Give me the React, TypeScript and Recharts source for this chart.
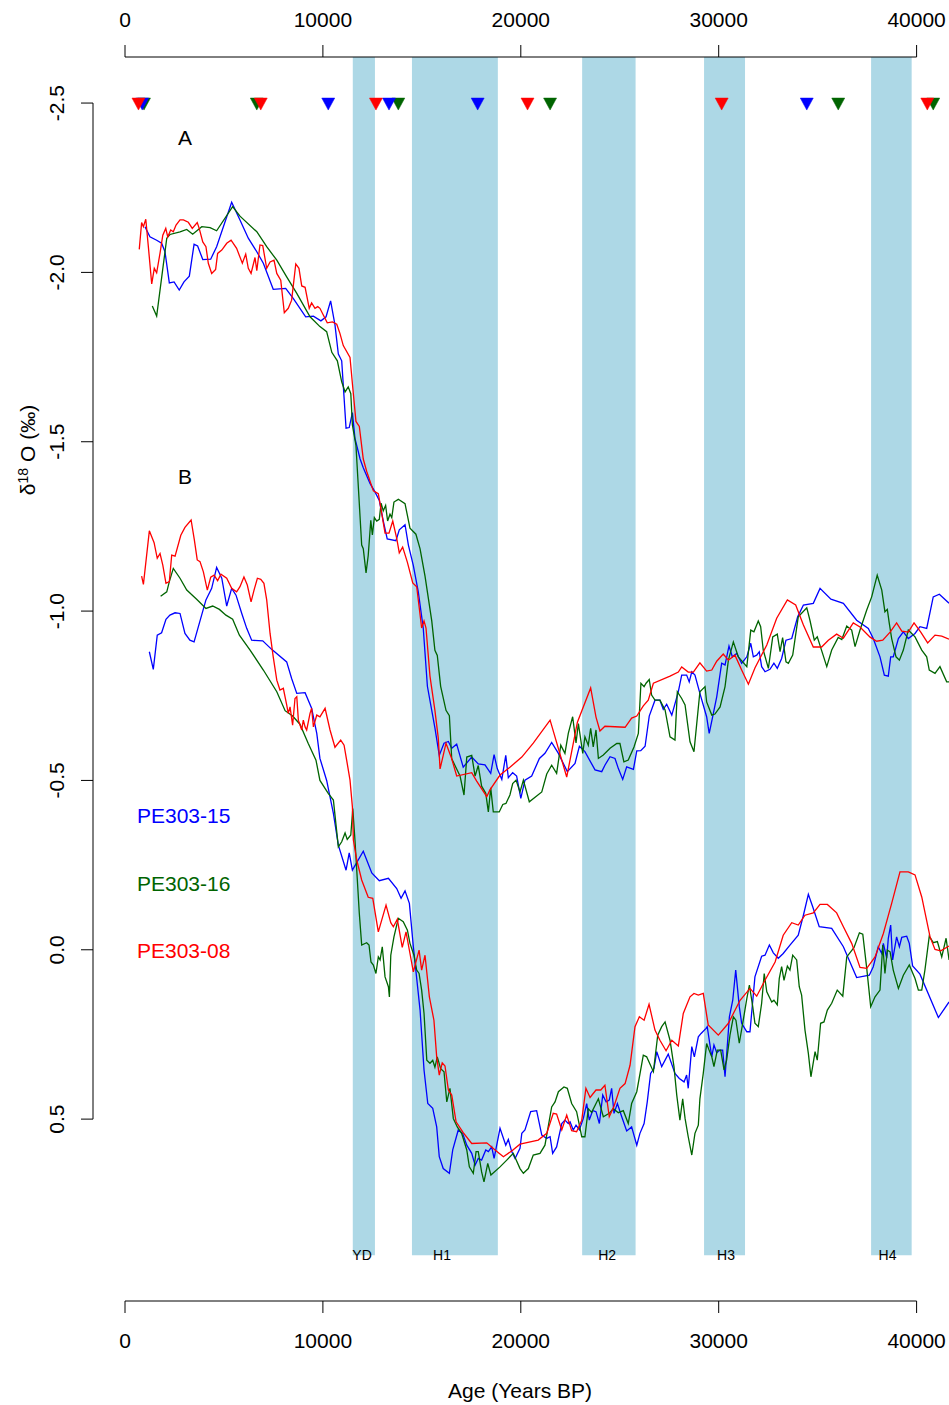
import React from 'react';
import { ComposedChart, Line, Scatter, XAxis, YAxis, ReferenceArea, ReferenceLine, ReferenceDot } from 'recharts';

const FONT = '"Liberation Sans", Arial, Helvetica, sans-serif';

// axis ranges (years BP, d18O permil; y is reversed)
const X_MIN = -1617;
const X_MAX = 41637;
const Y_TOP = -2.636;
const Y_BOTTOM = 1.037;
const BAND_BOTTOM = 0.902;

const xTicks = [0, 10000, 20000, 30000, 40000];
const yTicks = [-2.5, -2.0, -1.5, -1.0, -0.5, 0.0, 0.5];

// cold events
const bandNames = ['YD', 'H1', 'H2', 'H3', 'H4'];
const bandStart = [11510, 14500, 23100, 29260, 37700];
const bandEnd = [12630, 18840, 25800, 31330, 39750];
const bandLabelX = [11980, 16020, 24360, 30370, 38530];

// age control points (top triangles)
const triRed = [680, 6860, 12680, 20340, 30150, 40540];
const triBlue = [870, 10270, 13340, 17820, 34450];
const triGreen = [960, 6660, 13810, 21480, 36040, 40840];

// curve A
const blueA: [number, number][] = [[1010,-2.135],[1260,-2.105],[1600,-2.095],[1850,-2.086],[2020,-2.061],[2240,-1.969],[2480,-1.972],[2740,-1.948],[2980,-1.972],[3250,-1.989],[3490,-2.083],[3670,-2.078],[3930,-2.038],[4330,-2.039],[4630,-2.076],[5390,-2.207],[5810,-2.155],[6230,-2.101],[6660,-2.061],[6990,-2.027],[7490,-1.950],[8120,-1.953],[8500,-1.923],[9130,-1.869],[9520,-1.871],[9900,-1.857],[10160,-1.869],[10390,-1.916],[10610,-1.845],[10780,-1.759],[10950,-1.739],[11170,-1.540],[11330,-1.542],[11490,-1.586],[11620,-1.510],[11880,-1.449],[12040,-1.423],[12380,-1.377],[12630,-1.352],[12850,-1.327],[13050,-1.266],[13250,-1.213],[13690,-1.208],[13860,-1.240],[14150,-1.255],[14320,-1.195],[14570,-1.134],[14820,-1.057],[15070,-0.950],[15280,-0.778],[15660,-0.655],[15880,-0.574],[16120,-0.610],[16340,-0.615],[16510,-0.595],[16760,-0.607],[17090,-0.539],[17520,-0.569],[17850,-0.549],[18190,-0.546],[18480,-0.521],[18650,-0.576],[18810,-0.535],[19040,-0.503],[19240,-0.574],[19370,-0.508],[19590,-0.523],[19790,-0.513],[20000,-0.447],[20210,-0.501],[20550,-0.513],[20940,-0.565],[21220,-0.580],[21560,-0.612],[21900,-0.580],[22350,-0.526],[22740,-0.550],[22960,-0.601],[23240,-0.585],[23750,-0.531],[24090,-0.526],[24250,-0.545],[24510,-0.570],[24760,-0.565],[24930,-0.535],[25150,-0.503],[25350,-0.540],[25690,-0.533],[25860,-0.587],[26060,-0.588],[26280,-0.601],[26490,-0.690],[26780,-0.737],[27030,-0.737],[27200,-0.710],[27370,-0.725],[27630,-0.693],[27960,-0.762],[28130,-0.811],[28380,-0.811],[28510,-0.791],[28640,-0.821],[28800,-0.811],[29050,-0.757],[29390,-0.688],[29520,-0.639],[29730,-0.698],[29900,-0.747],[30150,-0.846],[30320,-0.841],[30520,-0.897],[30690,-0.865],[30910,-0.875],[31160,-0.846],[31420,-0.865],[31620,-0.905],[31750,-0.865],[31920,-0.870],[32050,-0.880],[32170,-0.836],[32340,-0.821],[32590,-0.828],[32790,-0.846],[32960,-0.831],[33180,-0.860],[33400,-0.914],[33690,-0.919],[33990,-0.983],[34280,-1.018],[34780,-1.023],[35120,-1.067],[35670,-1.035],[36300,-1.023],[36970,-0.973],[37560,-0.949],[37810,-0.919],[38150,-0.865],[38370,-0.811],[38570,-0.808],[38690,-0.865],[38820,-0.865],[39080,-0.919],[39330,-0.939],[39580,-0.919],[39920,-0.934],[40170,-0.954],[40510,-0.949],[40840,-1.042],[41150,-1.050],[41640,-1.023]];

const greenA: [number, number][] = [[1380,-1.901],[1600,-1.871],[2110,-2.101],[2270,-2.112],[2780,-2.120],[3120,-2.127],[3420,-2.113],[3880,-2.135],[4300,-2.132],[4630,-2.123],[5440,-2.194],[5810,-2.166],[6660,-2.120],[7160,-2.076],[7670,-2.036],[8170,-1.987],[8680,-1.938],[9350,-1.869],[9850,-1.840],[10190,-1.825],[10450,-1.764],[10730,-1.739],[10950,-1.677],[11120,-1.647],[11280,-1.662],[11410,-1.642],[11490,-1.550],[11670,-1.489],[11790,-1.367],[11960,-1.195],[12040,-1.184],[12180,-1.113],[12290,-1.164],[12420,-1.268],[12500,-1.225],[12600,-1.276],[12720,-1.266],[12850,-1.271],[12940,-1.319],[13050,-1.296],[13170,-1.312],[13270,-1.266],[13390,-1.286],[13480,-1.276],[13590,-1.322],[13810,-1.330],[14150,-1.317],[14400,-1.245],[14700,-1.227],[14910,-1.184],[15160,-1.103],[15500,-0.971],[15660,-0.884],[15780,-0.869],[15950,-0.778],[16220,-0.707],[16390,-0.691],[16510,-0.564],[16760,-0.534],[16930,-0.513],[17130,-0.457],[17270,-0.569],[17520,-0.574],[17690,-0.513],[17850,-0.544],[18020,-0.483],[18230,-0.462],[18360,-0.407],[18480,-0.478],[18610,-0.407],[18910,-0.407],[19090,-0.429],[19250,-0.432],[19450,-0.457],[19590,-0.491],[19760,-0.501],[19960,-0.466],[20130,-0.501],[20430,-0.437],[21060,-0.466],[21310,-0.519],[21560,-0.545],[21810,-0.521],[22020,-0.604],[22230,-0.580],[22400,-0.639],[22620,-0.688],[22790,-0.611],[22910,-0.668],[23130,-0.580],[23240,-0.629],[23410,-0.604],[23530,-0.654],[23660,-0.599],[23800,-0.649],[23920,-0.565],[24170,-0.575],[24510,-0.595],[24850,-0.609],[25010,-0.609],[25210,-0.555],[25430,-0.560],[25720,-0.599],[25940,-0.639],[26070,-0.787],[26230,-0.777],[26330,-0.787],[26490,-0.798],[26610,-0.752],[26780,-0.737],[27030,-0.737],[27290,-0.708],[27540,-0.629],[27790,-0.619],[27910,-0.762],[28130,-0.742],[28300,-0.723],[28550,-0.614],[28750,-0.585],[29050,-0.762],[29310,-0.777],[29390,-0.732],[29650,-0.693],[29810,-0.696],[30070,-0.717],[30320,-0.777],[30490,-0.855],[30740,-0.909],[30990,-0.865],[31210,-0.850],[31420,-0.836],[31620,-0.944],[31780,-0.939],[32000,-0.971],[32120,-0.954],[32250,-0.885],[32510,-0.831],[32730,-0.924],[32960,-0.932],[33100,-0.880],[33230,-0.922],[33400,-0.850],[33520,-0.846],[33740,-0.870],[34020,-0.983],[34450,-1.010],[34610,-0.973],[34830,-0.914],[34980,-0.924],[35460,-0.836],[35710,-0.885],[36040,-0.922],[36220,-0.916],[36470,-0.956],[36720,-0.944],[36890,-0.895],[37140,-0.944],[37480,-1.003],[37730,-1.042],[38010,-1.106],[38240,-1.062],[38400,-0.998],[38520,-1.005],[38620,-0.964],[38740,-0.919],[38960,-0.865],[39130,-0.855],[39330,-0.885],[39580,-0.944],[39920,-0.924],[40260,-0.885],[40510,-0.865],[40640,-0.826],[40930,-0.816],[41180,-0.836],[41520,-0.791],[41640,-0.791]];

const redA: [number, number][] = [[720,-2.068],[840,-2.147],[930,-2.135],[1050,-2.157],[1180,-2.076],[1350,-1.966],[1480,-2.012],[1600,-1.999],[1770,-2.057],[1910,-2.110],[2060,-2.130],[2160,-2.105],[2310,-2.125],[2440,-2.120],[2580,-2.140],[2780,-2.155],[2950,-2.155],[3200,-2.148],[3400,-2.130],[3650,-2.147],[3750,-2.130],[3930,-2.090],[4090,-2.076],[4210,-2.027],[4380,-1.997],[4580,-2.009],[4680,-2.056],[4890,-2.066],[5140,-2.086],[5360,-2.095],[5640,-2.071],[5930,-2.027],[6100,-2.054],[6230,-2.012],[6370,-1.997],[6570,-2.044],[6660,-2.005],[6820,-2.081],[6960,-2.079],[7160,-2.012],[7330,-2.031],[7530,-2.036],[7670,-1.997],[7870,-1.977],[8050,-1.881],[8250,-1.894],[8420,-1.918],[8630,-2.025],[8790,-2.012],[8930,-1.960],[9100,-1.956],[9310,-1.894],[9430,-1.910],[9600,-1.894],[9740,-1.899],[9850,-1.894],[10020,-1.874],[10220,-1.851],[10480,-1.854],[10700,-1.847],[10860,-1.820],[11030,-1.784],[11370,-1.749],[11490,-1.672],[11670,-1.560],[11840,-1.545],[12040,-1.449],[12210,-1.413],[12550,-1.355],[12800,-1.347],[12890,-1.317],[13140,-1.230],[13340,-1.230],[13530,-1.266],[13730,-1.215],[13860,-1.172],[14030,-1.189],[14270,-1.144],[14540,-1.083],[14740,-1.072],[14990,-0.950],[15110,-0.971],[15210,-0.950],[15410,-0.808],[15660,-0.707],[15830,-0.625],[15920,-0.534],[16080,-0.574],[16220,-0.610],[16510,-0.564],[16760,-0.513],[17520,-0.523],[17770,-0.498],[18280,-0.452],[18440,-0.472],[18950,-0.516],[19450,-0.539],[20050,-0.569],[20630,-0.610],[21480,-0.678],[22320,-0.510],[22860,-0.672],[23530,-0.773],[23800,-0.687],[24000,-0.646],[24250,-0.660],[25270,-0.657],[25600,-0.684],[25860,-0.690],[26190,-0.720],[26440,-0.737],[26700,-0.787],[27540,-0.808],[27960,-0.820],[28130,-0.835],[28460,-0.820],[28720,-0.820],[29050,-0.847],[29390,-0.823],[29650,-0.826],[29900,-0.852],[30230,-0.873],[30490,-0.855],[30820,-0.870],[31160,-0.826],[31500,-0.784],[31830,-0.832],[32430,-0.900],[32930,-0.979],[33470,-1.033],[33890,-1.018],[34280,-0.959],[34780,-0.894],[35200,-0.894],[35540,-0.914],[35960,-0.932],[36300,-0.920],[36800,-0.965],[37140,-0.953],[37650,-0.923],[37980,-0.911],[38290,-0.914],[38660,-0.938],[38990,-0.965],[39250,-0.941],[39580,-0.938],[39870,-0.965],[40210,-0.938],[40560,-0.906],[40930,-0.929],[41270,-0.926],[41640,-0.917]];

// curve B
const blueB: [number, number][] = [[1230,-0.880],[1430,-0.828],[1630,-0.929],[1850,-0.936],[2070,-0.976],[2270,-0.988],[2530,-0.995],[2780,-0.993],[3030,-0.934],[3280,-0.914],[3490,-0.909],[3790,-0.971],[4090,-1.033],[4380,-1.067],[4630,-1.129],[4890,-1.097],[5140,-1.015],[5390,-1.067],[5610,-1.047],[5900,-0.993],[6150,-0.949],[6400,-0.914],[6960,-0.912],[7410,-0.887],[8170,-0.850],[8420,-0.801],[8680,-0.757],[9100,-0.759],[9430,-0.713],[9690,-0.639],[9850,-0.565],[10190,-0.500],[10530,-0.403],[10780,-0.309],[11170,-0.235],[11330,-0.286],[11490,-0.235],[12040,-0.291],[12470,-0.227],[12850,-0.204],[13310,-0.211],[13730,-0.181],[13950,-0.152],[14150,-0.174],[14370,-0.137],[14570,-0.009],[14910,0.178],[15110,0.355],[15300,0.454],[15550,0.468],[15750,0.523],[15880,0.611],[16080,0.646],[16390,0.660],[16560,0.591],[16840,0.532],[17060,0.542],[17270,0.577],[17520,0.601],[17690,0.636],[17850,0.616],[18020,0.621],[18230,0.591],[18360,0.596],[18530,0.582],[18650,0.616],[18950,0.527],[19240,0.577],[19370,0.560],[19540,0.596],[19710,0.616],[19960,0.586],[20050,0.542],[20210,0.532],[20500,0.478],[20800,0.475],[21060,0.547],[21310,0.557],[21480,0.552],[21610,0.601],[21810,0.582],[22070,0.513],[22230,0.503],[22400,0.513],[22490,0.508],[22650,0.532],[22790,0.518],[22960,0.532],[23160,0.498],[23330,0.454],[23460,0.503],[23630,0.475],[23800,0.478],[23970,0.513],[24140,0.429],[24310,0.449],[24470,0.444],[24590,0.409],[24710,0.483],[24880,0.454],[25100,0.493],[25350,0.535],[25600,0.523],[25860,0.577],[26020,0.542],[26230,0.513],[26390,0.449],[26560,0.365],[26730,0.350],[26870,0.301],[27120,0.345],[27450,0.308],[27790,0.365],[28010,0.380],[28250,0.390],[28380,0.370],[28460,0.409],[28640,0.286],[28770,0.316],[28970,0.257],[29110,0.247],[29360,0.232],[29420,0.227],[29650,0.316],[29760,0.281],[29900,0.304],[30070,0.296],[30200,0.296],[30320,0.375],[30540,0.198],[30710,0.149],[30860,0.060],[31040,0.168],[31160,0.217],[31420,0.242],[31580,0.242],[31830,0.080],[32170,0.019],[32340,0.016],[32560,-0.014],[32760,0.009],[33010,0.025],[33260,0.011],[33600,-0.014],[34020,-0.043],[34280,-0.102],[34530,-0.164],[34750,-0.127],[35080,-0.068],[35710,-0.063],[36300,-0.009],[36970,0.082],[37610,0.075],[37810,0.050],[38060,-0.009],[38240,0.011],[38320,-0.019],[38490,0.025],[38570,-0.034],[38690,-0.073],[38790,0.030],[38990,-0.038],[39130,-0.009],[39250,-0.037],[39500,-0.040],[39630,-0.019],[39800,0.048],[40170,0.072],[41100,0.200],[41640,0.154]];

const greenB: [number, number][] = [[1800,-1.044],[2110,-1.057],[2240,-1.087],[2440,-1.126],[2780,-1.097],[3120,-1.062],[3620,-1.035],[4090,-1.008],[4430,-1.015],[4770,-1.005],[5100,-0.988],[5440,-0.976],[5780,-0.929],[6320,-0.885],[6990,-0.826],[7670,-0.762],[8090,-0.706],[8470,-0.690],[8840,-0.666],[9260,-0.609],[9650,-0.560],[9850,-0.500],[10270,-0.462],[10530,-0.442],[10780,-0.304],[10950,-0.319],[11120,-0.345],[11230,-0.326],[11410,-0.339],[11510,-0.417],[11620,-0.324],[11740,-0.206],[11840,-0.107],[11960,-0.014],[12210,-0.021],[12330,-0.014],[12430,0.036],[12550,0.045],[12680,0.070],[12800,0.021],[12890,0.030],[13000,-0.009],[13140,0.080],[13310,0.109],[13360,0.139],[13430,0.016],[13590,-0.038],[13810,-0.093],[14060,-0.083],[14270,-0.058],[14400,-0.019],[14600,0.016],[14740,0.060],[14860,0.070],[14990,0.119],[15110,0.188],[15250,0.326],[15410,0.335],[15550,0.326],[15660,0.347],[15780,0.316],[15950,0.351],[16120,0.360],[16260,0.449],[16420,0.409],[16590,0.498],[16790,0.523],[17010,0.542],[17270,0.591],[17400,0.641],[17600,0.660],[17740,0.596],[17850,0.596],[18020,0.656],[18140,0.685],[18330,0.631],[18490,0.665],[18950,0.641],[19290,0.621],[19620,0.601],[19960,0.646],[20130,0.660],[20380,0.646],[20630,0.606],[20970,0.601],[21220,0.577],[21560,0.464],[21730,0.449],[21900,0.419],[22180,0.405],[22350,0.409],[22570,0.454],[22820,0.478],[23080,0.552],[23240,0.552],[23410,0.469],[23580,0.480],[23920,0.440],[24170,0.493],[24470,0.483],[24670,0.469],[24930,0.481],[25180,0.475],[25430,0.513],[25600,0.454],[25860,0.419],[26190,0.311],[26360,0.316],[26700,0.360],[26920,0.252],[27120,0.227],[27290,0.213],[27540,0.267],[27740,0.345],[27880,0.429],[28040,0.503],[28180,0.440],[28300,0.498],[28460,0.552],[28640,0.606],[28800,0.542],[28970,0.518],[29050,0.440],[29220,0.365],[29390,0.277],[29520,0.297],[29650,0.316],[29760,0.345],[29930,0.296],[30100,0.296],[30270,0.355],[30400,0.326],[30570,0.252],[30740,0.198],[30870,0.208],[31040,0.276],[31240,0.208],[31420,0.144],[31550,0.104],[31720,0.168],[31830,0.217],[32000,0.227],[32170,0.158],[32300,0.070],[32430,0.124],[32680,0.154],[32790,0.149],[32960,0.163],[33060,0.085],[33180,0.050],[33300,0.090],[33470,0.048],[33600,0.060],[33740,0.016],[33940,0.030],[34070,0.109],[34190,0.134],[34360,0.237],[34530,0.306],[34660,0.375],[34870,0.301],[34980,0.326],[35150,0.217],[35320,0.213],[35490,0.178],[35710,0.158],[35990,0.119],[36270,0.137],[36470,0.021],[36840,-0.007],[37110,-0.050],[37280,-0.046],[37480,0.055],[37680,0.168],[37900,0.139],[38150,0.119],[38290,-0.014],[38400,0.070],[38520,0.001],[38660,0.006],[38820,0.060],[39080,0.114],[39330,0.075],[39630,0.045],[39920,0.085],[40090,0.119],[40260,0.119],[40420,0.060],[40640,-0.040],[40840,-0.021],[41050,-0.024],[41270,0.021],[41490,-0.034],[41640,0.030]];

const redB: [number, number][] = [[840,-1.103],[930,-1.079],[1230,-1.237],[1470,-1.202],[1630,-1.156],[1770,-1.170],[1910,-1.136],[2070,-1.082],[2240,-1.087],[2360,-1.165],[2530,-1.162],[2820,-1.224],[3030,-1.247],[3340,-1.269],[3500,-1.212],[3650,-1.151],[3790,-1.146],[3960,-1.116],[4160,-1.062],[4330,-1.100],[4500,-1.106],[4680,-1.090],[4850,-1.109],[5140,-1.097],[5390,-1.067],[5640,-1.057],[5810,-1.072],[6010,-1.101],[6180,-1.077],[6370,-1.027],[6520,-1.062],[6690,-1.097],[6860,-1.094],[7020,-1.082],[7160,-1.033],[7330,-0.934],[7490,-0.865],[7670,-0.796],[7830,-0.767],[8000,-0.772],[8170,-0.723],[8250,-0.698],[8340,-0.717],[8470,-0.663],[8590,-0.742],[8680,-0.747],[8760,-0.678],[8930,-0.649],[9010,-0.678],[9100,-0.658],[9180,-0.649],[9350,-0.698],[9430,-0.713],[9520,-0.658],[9690,-0.693],[9850,-0.688],[10110,-0.713],[10360,-0.649],[10610,-0.598],[10900,-0.619],[11070,-0.604],[11200,-0.560],[11370,-0.501],[11490,-0.422],[11540,-0.324],[11710,-0.265],[11960,-0.206],[12290,-0.155],[12520,-0.152],[12800,-0.053],[13190,-0.132],[13430,-0.080],[13560,-0.068],[13760,-0.090],[14010,-0.007],[14200,-0.053],[14400,0.011],[14570,0.065],[14860,0.001],[14990,0.060],[15160,0.016],[15380,0.139],[15610,0.208],[15750,0.316],[15880,0.370],[16030,0.334],[16170,0.343],[16340,0.414],[16510,0.429],[16730,0.508],[17090,0.540],[17520,0.572],[18280,0.570],[18700,0.591],[19120,0.611],[19540,0.594],[19960,0.574],[20880,0.562],[21310,0.542],[21640,0.483],[21810,0.485],[22070,0.532],[22320,0.488],[22570,0.534],[22820,0.537],[23080,0.503],[23290,0.409],[23500,0.436],[23800,0.414],[24040,0.414],[24250,0.400],[24470,0.493],[24710,0.462],[25010,0.409],[25270,0.395],[25520,0.341],[25770,0.227],[25990,0.198],[26230,0.208],[26480,0.161],[26780,0.237],[27030,0.267],[27340,0.298],[27630,0.267],[27960,0.284],[28210,0.188],[28550,0.139],[28750,0.129],[28970,0.134],[29220,0.129],[29470,0.222],[29980,0.252],[30490,0.217],[31080,0.149],[31580,0.114],[31920,0.137],[32340,0.090],[32850,0.036],[33260,-0.043],[33690,-0.080],[34020,-0.073],[34360,-0.102],[34780,-0.109],[35120,-0.134],[35490,-0.134],[35960,-0.109],[36300,-0.068],[36720,-0.019],[37140,0.052],[37480,0.055],[37900,0.021],[38320,-0.048],[38740,-0.137],[39160,-0.230],[39580,-0.230],[39920,-0.221],[40260,-0.156],[40680,-0.038],[40930,-0.001],[41220,0.003],[41640,-0.011]];

const BLUE = '#0000ff';
const GREEN = '#006400';
const RED = '#ff0000';
const BAND = '#add8e6';

const toRows = (pts: [number, number][]) => pts.map(([x, y]) => ({ x, y }));
const toTri = (xs: number[]) => xs.map((x) => ({ x, y: -2.5 }));

const triangle = (color: string) => (props: any) => {
  const { cx, cy } = props;
  return <path d={`M${cx - 6.5},${cy - 5} L${cx + 6.5},${cy - 5} L${cx},${cy + 7} Z`} fill={color} stroke={color} strokeWidth={0.5} />;
};

const TopTick = ({ x, payload }: any) => (
  <text x={x} y={19} textAnchor="middle" dominantBaseline="central" fontSize={21} fontFamily={FONT} fill="#000">
    {payload.value}
  </text>
);

const BottomTick = ({ x, payload }: any) => (
  <text x={x} y={1340} textAnchor="middle" dominantBaseline="central" fontSize={21} fontFamily={FONT} fill="#000">
    {payload.value}
  </text>
);

const LeftTick = ({ y, payload }: any) => (
  <text x={57} y={y} transform={`rotate(-90 57 ${y})`} textAnchor="middle" dominantBaseline="central" fontSize={21} fontFamily={FONT} fill="#000">
    {Number(payload.value).toFixed(1)}
  </text>
);

const abs = (left: number, top: number, extra: React.CSSProperties = {}): React.CSSProperties => ({
  position: 'absolute',
  left,
  top,
  transform: 'translateY(-50%)',
  whiteSpace: 'nowrap',
  fontSize: 21,
  lineHeight: 1,
  ...extra,
});

const lineProps = { type: 'linear' as const, dataKey: 'y', dot: false, strokeWidth: 1.3, isAnimationActive: false, xAxisId: 'bottom' };

export default function App() {
  return (
    <div style={{ position: 'absolute', left: 0, top: 0, width: 949, height: 1405, background: '#fff', fontFamily: FONT, overflow: 'hidden' }}>
      <ComposedChart width={949} height={1405} margin={{ top: 7, right: 0, bottom: 44, left: 13 }}>
        {bandStart.map((s, i) => (
          <ReferenceArea key={bandNames[i]} xAxisId="bottom" x1={s} x2={bandEnd[i]} y1={Y_TOP} y2={BAND_BOTTOM} fill={BAND} fillOpacity={1} stroke="none" ifOverflow="visible" />
        ))}
        <XAxis xAxisId="bottom" orientation="bottom" type="number" dataKey="x" domain={[X_MIN, X_MAX]} allowDataOverflow ticks={xTicks} interval={0} axisLine={false} stroke="#000" tickLine={{ stroke: '#000' }} tickSize={12} tick={<BottomTick />} height={60} />
        <XAxis xAxisId="top" orientation="top" type="number" dataKey="x" domain={[X_MIN, X_MAX]} allowDataOverflow ticks={xTicks} interval={0} axisLine={false} stroke="#000" tickLine={{ stroke: '#000' }} tickSize={12} tick={<TopTick />} height={50} />
        <YAxis type="number" dataKey="y" domain={[Y_TOP, Y_BOTTOM]} reversed allowDataOverflow ticks={yTicks} interval={0} axisLine={false} stroke="#000" tickLine={{ stroke: '#000' }} tickSize={12} tick={<LeftTick />} width={80} />

        <ReferenceLine xAxisId="bottom" segment={[{ x: X_MIN, y: -2.5 }, { x: X_MIN, y: 0.5 }]} stroke="#000" strokeWidth={1} ifOverflow="visible" />
        <ReferenceLine xAxisId="bottom" segment={[{ x: 0, y: Y_BOTTOM }, { x: 40000, y: Y_BOTTOM }]} stroke="#000" strokeWidth={1} ifOverflow="visible" />
        <ReferenceLine xAxisId="top" segment={[{ x: 0, y: Y_TOP }, { x: 40000, y: Y_TOP }]} stroke="#000" strokeWidth={1} ifOverflow="visible" />

        {bandNames.map((n, i) => (
          <ReferenceDot key={'lbl' + n} xAxisId="bottom" x={bandLabelX[i]} y={BAND_BOTTOM} r={0} fill="none" stroke="none" ifOverflow="visible"
            label={{ value: n, position: 'center', fontSize: 14, fill: '#000', fontFamily: FONT }} />
        ))}

        <Line {...lineProps} data={toRows(blueA)} stroke={BLUE} />
        <Line {...lineProps} data={toRows(greenA)} stroke={GREEN} />
        <Line {...lineProps} data={toRows(redA)} stroke={RED} />
        <Line {...lineProps} data={toRows(blueB)} stroke={BLUE} />
        <Line {...lineProps} data={toRows(greenB)} stroke={GREEN} />
        <Line {...lineProps} data={toRows(redB)} stroke={RED} />

        <Scatter xAxisId="top" data={toTri(triGreen)} shape={triangle(GREEN)} isAnimationActive={false} />
        <Scatter xAxisId="top" data={toTri(triBlue)} shape={triangle(BLUE)} isAnimationActive={false} />
        <Scatter xAxisId="top" data={toTri(triRed)} shape={triangle(RED)} isAnimationActive={false} />
      </ComposedChart>

      <div style={abs(178, 137)}>A</div>
      <div style={abs(178, 476)}>B</div>
      <div style={abs(137, 815, { color: BLUE })}>PE303-15</div>
      <div style={abs(137, 883, { color: GREEN })}>PE303-16</div>
      <div style={abs(137, 950, { color: RED })}>PE303-08</div>
      <div style={{ position: 'absolute', left: 520, top: 1390, transform: 'translate(-50%, -50%)', whiteSpace: 'nowrap', fontSize: 21, lineHeight: 1 }}>
        Age (Years BP)
      </div>
      <div style={{ position: 'absolute', left: 27, top: 450, transform: 'translate(-50%, -50%) rotate(-90deg)', whiteSpace: 'nowrap', fontSize: 21, lineHeight: 1 }}>
        δ<span style={{ fontSize: 14, verticalAlign: '0.55em' }}>18</span> O (‰)
      </div>
    </div>
  );
}
